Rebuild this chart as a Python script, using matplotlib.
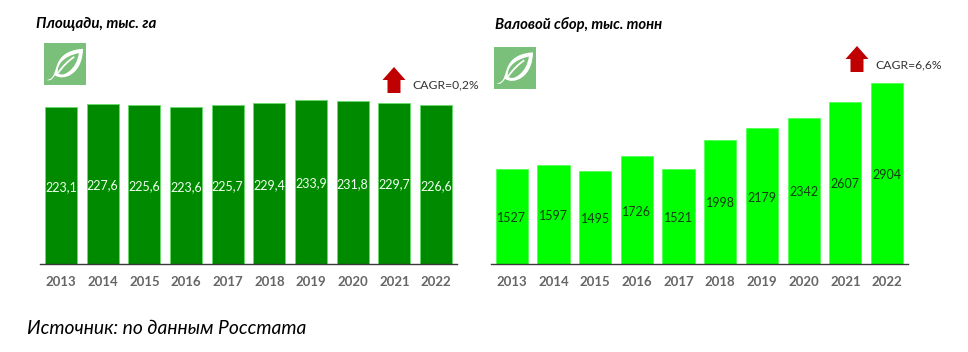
import numpy as np
import matplotlib
matplotlib.use('Agg')
import matplotlib.pyplot as plt
from matplotlib.patches import PathPatch, Polygon, Rectangle
from matplotlib.path import Path

years = [2013, 2014, 2015, 2016, 2017, 2018, 2019, 2020, 2021, 2022]
area = [223.1, 227.6, 225.6, 223.6, 225.7, 229.4, 233.9, 231.8, 229.7, 226.6]
harvest = [1527, 1597, 1495, 1726, 1521, 1998, 2179, 2342, 2607, 2904]

plt.rcParams['font.family'] = ['Lato', 'DejaVu Sans']

W, H = 968, 352
BASE = 264


def add_axes_px(fig, x0, x1, y_top):
    return fig.add_axes([x0 / W, 1 - BASE / H, (x1 - x0) / W, (BASE - y_top) / H])


def bar_panel(ax, values, color, edge, txt_color, labels, ymax):
    x = np.arange(len(values))
    ax.bar(x, values, width=0.77, color=color, edgecolor=edge, linewidth=0.6)
    for i, v in enumerate(values):
        ax.annotate(labels[i], (i, v / 2), xytext=(0, -1), textcoords='offset points',
                    ha='center', va='center', color=txt_color, fontsize=9.0)
    ax.set_xlim(-0.5, len(values) - 0.5)
    ax.set_ylim(0, ymax)
    ax.set_xticks(x)
    ax.set_xticklabels(years, fontsize=9.5, fontweight='bold', color='#666666')
    ax.tick_params(axis='x', length=0, pad=9)
    ax.set_yticks([])
    for s in ['top', 'left', 'right']:
        ax.spines[s].set_visible(False)
    ax.spines['bottom'].set_color('#3a3a3a')
    ax.spines['bottom'].set_linewidth(1.0)


def leaf_icon(ov, x, y, s=42):
    ov.add_patch(Rectangle((x, y), s, s, facecolor='#7abf7a', edgecolor='none'))

    # outline of the leaf, in units of the icon
    def pt(u, v):
        return (x + u * s, y + v * s)
    verts = [pt(.06, .88), pt(.28, .86), pt(.24, .62), pt(.36, .42),
             pt(.46, .24), pt(.68, .15), pt(.93, .14),
             pt(.92, .40), pt(.84, .62), pt(.66, .74),
             pt(.52, .84), pt(.36, .84), pt(.26, .77),
             pt(.18, .90), pt(.12, .90), pt(.06, .88)]
    codes = [Path.MOVETO] + [Path.CURVE4] * 15
    ov.add_patch(PathPatch(Path(verts, codes), facecolor='white', edgecolor='none'))
    # inner hollow
    inner = [pt(.33, .72), pt(.30, .52), pt(.46, .32), pt(.83, .24),
             pt(.80, .44), pt(.72, .58), pt(.60, .67),
             pt(.50, .76), pt(.40, .77), pt(.33, .72)]
    codes = [Path.MOVETO] + [Path.CURVE4] * 9
    ov.add_patch(PathPatch(Path(inner, codes), facecolor='#7abf7a', edgecolor='none'))
    # vein
    vein = [pt(.33, .72), pt(.45, .55), pt(.58, .42), pt(.72, .33)]
    ov.add_patch(PathPatch(Path(vein, [Path.MOVETO] + [Path.CURVE4] * 3),
                           facecolor='none', edgecolor='white', linewidth=1.3))


def up_arrow(ov, cx, tip, bottom):
    ov.add_patch(Polygon([(cx, tip), (cx + 11.5, tip + 13), (cx + 6.5, tip + 13),
                          (cx + 6.5, bottom), (cx - 6.5, bottom), (cx - 6.5, tip + 13),
                          (cx - 11.5, tip + 13)], closed=True, facecolor='#c00000', edgecolor='none'))


fig = plt.figure(figsize=(W / 100, H / 100), dpi=100)

ax1 = add_axes_px(fig, 40.3, 456.8, 64)
bar_panel(ax1, area, '#008a00', '#66dd66', '#f0fff0', [str(v).replace('.', ',') for v in area], 200 / 0.703)

ax2 = add_axes_px(fig, 490.9, 907.9, 64)
bar_panel(ax2, harvest, '#00ff00', '#55ff55', '#143c14', [str(v) for v in harvest], 200 / 0.0623)

# overlay in pixel coordinates for icons, arrows and captions
ov = fig.add_axes([0, 0, 1, 1], facecolor='none')
ov.set_xlim(0, W)
ov.set_ylim(H, 0)
ov.axis('off')

leaf_icon(ov, 44, 43)
leaf_icon(ov, 494, 46.5)
up_arrow(ov, 394, 67, 93)
up_arrow(ov, 857, 46, 72)

ov.text(36, 24, 'Площади, тыс. га', fontsize=10.9, fontweight='bold', style='italic',
        color='black', va='center', ha='left')
ov.text(495, 24, 'Валовой сбор, тыс. тонн', fontsize=10.7, fontweight='bold', style='italic',
        color='black', va='center', ha='left')
ov.text(412, 85, 'CAGR=0,2%', fontsize=8.7, color='#333333', va='center', ha='left')
ov.text(875, 64.5, 'CAGR=6,6%', fontsize=8.7, color='#333333', va='center', ha='left')
ov.text(27, 329, 'Источник: по данным Росстата', fontsize=13.9, style='italic',
        color='black', va='center', ha='left')

fig.savefig('out.png', dpi=100)
